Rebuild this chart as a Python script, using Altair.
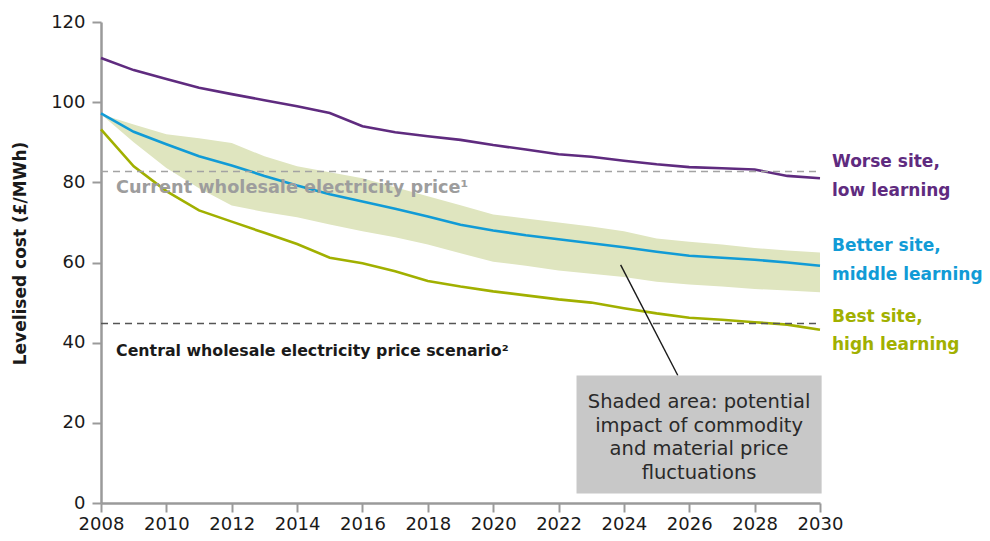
import altair as alt
import pandas as pd

years = list(range(2008, 2031))
worse = [111.0, 108.0, 105.8, 103.6, 102.0, 100.5, 99.0, 97.3, 94.0, 92.5, 91.5, 90.6,
         89.3, 88.2, 87.0, 86.4, 85.4, 84.5, 83.8, 83.5, 83.2, 81.6, 81.0]
better = [97.2, 92.6, 89.5, 86.5, 84.2, 81.6, 79.2, 77.0, 75.2, 73.4, 71.5, 69.4,
          68.0, 66.8, 65.8, 64.8, 63.8, 62.7, 61.7, 61.2, 60.7, 60.0, 59.2]
best = [93.2, 84.0, 77.8, 73.0, 70.2, 67.4, 64.6, 61.2, 59.8, 57.8, 55.4, 54.0,
        52.8, 51.8, 50.8, 50.0, 48.6, 47.3, 46.2, 45.7, 45.1, 44.5, 43.2]
band_hi = [97.0, 94.4, 92.0, 91.0, 89.8, 86.5, 84.0, 82.5, 81.0, 78.8, 76.5, 74.3,
           72.0, 71.0, 70.0, 69.0, 67.8, 66.0, 65.2, 64.5, 63.6, 63.0, 62.5]
band_lo = [97.0, 90.0, 83.6, 78.5, 74.2, 72.6, 71.3, 69.5, 67.8, 66.3, 64.5, 62.3,
           60.2, 59.2, 58.0, 57.2, 56.4, 55.2, 54.5, 54.0, 53.4, 53.0, 52.6]

series_names = ["Worse site, low learning", "Better site, middle learning", "Best site, high learning"]
series_colors = ["#5f2b7f", "#119bd6", "#a1b000"]

price_values = [82.7, 44.8]
price_labels = ["Current wholesale electricity price\u00b9", "Central wholesale electricity price scenario\u00b2"]
price_colors = ["#a3a3a3", "#555555"]
price_text_colors = ["#9d9d9d", "#1a1a1a"]

right_labels = ["Worse site,", "low learning", "Better site,", "middle learning", "Best site,", "high learning"]
box_lines = ["Shaded area: potential", "impact of commodity", "and material price", "fluctuations"]

Y_TITLE = "Levelised cost (£/MWh)"
FONT = "DejaVu Sans"

band_df = pd.DataFrame({"year": years, "lo": band_lo, "hi": band_hi})
lines_df = pd.concat([
    pd.DataFrame({"year": years, "value": vals, "series": name})
    for name, vals in zip(series_names, [worse, better, best])
])
rules_df = pd.DataFrame({"y": price_values, "x": [2008] * 2, "x2": [2030] * 2,
                         "c": price_colors})
price_text_df = pd.DataFrame({"label": price_labels, "y": [78.7, 37.8], "size": [17.7, 15.8],
                              "x": [2008.46] * 2, "c": price_text_colors})
right_df = pd.DataFrame({
    "label": right_labels,
    "x": [2030] * 6,
    "y": [85.0, 77.8, 64.0, 57.0, 46.3, 39.3],
    "series": [series_names[0]] * 2 + [series_names[1]] * 2 + [series_names[2]] * 2,
})
box_text_df = pd.DataFrame({"label": box_lines, "x": [2026.3] * 4, "y": [25.3, 19.3, 13.5, 7.5]})
box_df = pd.DataFrame({"x": [2022.55], "x2": [2030.05], "y": [31.8], "y2": [2.4]})
leader_df = pd.DataFrame({"x": [2023.9], "x2": [2025.65], "y": [59.4], "y2": [31.8]})

xscale = alt.Scale(domain=[2008, 2030], nice=False, zero=False)
yscale = alt.Scale(domain=[0, 120], nice=False)
cscale = alt.Scale(domain=series_names, range=series_colors)

band = alt.Chart(band_df).mark_area(color="#dfe5bf", opacity=1).encode(
    x=alt.X("year:Q", scale=xscale, title=None,
            axis=alt.Axis(values=years, format="d", labelOverlap=False, labelFlush=False,
                          labelPadding=3,
                          labelExpr="datum.value % 2 == 0 ? datum.label : ''")),
    y=alt.Y("lo:Q", scale=yscale, title=Y_TITLE,
            axis=alt.Axis(values=[0, 20, 40, 60, 80, 100, 120], labelFlush=False,
                          labelPadding=7,
                          titleX=-81, titleY=231, titleAngle=-90, titleAlign="center",
                          titleBaseline="middle", titleFontSize=17, titleFontWeight="bold",
                          titleColor="#1a1a1a", titleFont=FONT)),
    y2="hi:Q",
)

lines = alt.Chart(lines_df).mark_line(strokeWidth=2.6).encode(
    x=alt.X("year:Q", scale=xscale, title=None),
    y=alt.Y("value:Q", scale=yscale, title=Y_TITLE),
    color=alt.Color("series:N", scale=cscale, legend=None),
)

rules = alt.Chart(rules_df).mark_rule(strokeDash=[7, 5], strokeWidth=1.4).encode(
    x=alt.X("x:Q", scale=xscale, title=None),
    x2="x2:Q",
    y=alt.Y("y:Q", scale=yscale, title=Y_TITLE),
    color=alt.Color("c:N", scale=None),
)

price_text = alt.Chart(price_text_df).mark_text(
    align="left", baseline="middle", fontWeight="bold", font=FONT
).encode(
    x=alt.X("x:Q", scale=xscale, title=None),
    y=alt.Y("y:Q", scale=yscale, title=Y_TITLE),
    text="label:N",
    size=alt.Size("size:Q", scale=None, legend=None),
    color=alt.Color("c:N", scale=None),
)

right_text = alt.Chart(right_df).mark_text(
    align="left", baseline="middle", fontSize=17, fontWeight="bold", font=FONT, dx=12
).encode(
    x=alt.X("x:Q", scale=xscale, title=None),
    y=alt.Y("y:Q", scale=yscale, title=Y_TITLE),
    text="label:N",
    color=alt.Color("series:N", scale=cscale, legend=None),
)

box = alt.Chart(box_df).mark_rect(color="#c8c8c8").encode(
    x=alt.X("x:Q", scale=xscale, title=None),
    x2="x2:Q",
    y=alt.Y("y:Q", scale=yscale, title=Y_TITLE),
    y2="y2:Q",
)

box_text = alt.Chart(box_text_df).mark_text(
    align="center", baseline="middle", fontSize=19.5, font=FONT, color="#2a2a2a"
).encode(
    x=alt.X("x:Q", scale=xscale, title=None),
    y=alt.Y("y:Q", scale=yscale, title=Y_TITLE),
    text="label:N",
)

leader = alt.Chart(leader_df).mark_rule(color="#1a1a1a", strokeWidth=1.4).encode(
    x=alt.X("x:Q", scale=xscale, title=None),
    x2="x2:Q",
    y=alt.Y("y:Q", scale=yscale, title=Y_TITLE),
    y2="y2:Q",
)

chart = alt.layer(band, lines, rules, price_text, right_text, leader, box, box_text).properties(
    width=719, height=481,
    autosize=alt.AutoSizeParams(type="none"),
    padding={"left": 93, "top": 14, "right": 162, "bottom": 30},
).configure_view(stroke=None).configure_axis(
    domainColor="#9a9a9a", domainWidth=2.5, tickColor="#9a9a9a", tickWidth=2,
    tickSize=9, labelFontSize=18, labelFont=FONT, labelColor="#1a1a1a", grid=False,
)

chart.save("out.html", embed_options={"renderer": "svg", "actions": False})
